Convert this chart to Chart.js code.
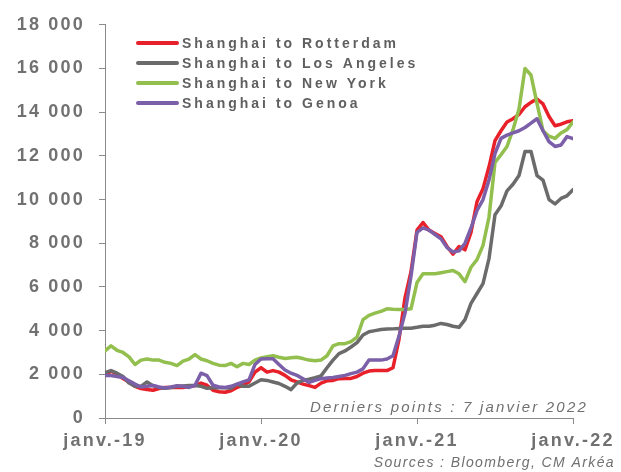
<!DOCTYPE html>
<html>
<head>
<meta charset="utf-8">
<script src="https://cdn.jsdelivr.net/npm/chart.js@4.4.1/dist/chart.umd.min.js"></script>
<style>
  html, body { margin: 0; padding: 0; background: #fff; }
</style>
</head>
<body>
<canvas id="chart" width="621" height="472"></canvas>
<script>
// weeks since the first data point (early January 2019), one reading every 2 weeks
const weeks = [0, 2, 4, 6, 8, 10, 12, 14, 16, 18,
  20, 22, 24, 26, 28, 30, 32, 34, 36, 38,
  40, 42, 44, 46, 48, 50, 52, 54, 56, 58,
  60, 62, 64, 66, 68, 70, 72, 74, 76, 78,
  80, 82, 84, 86, 88, 90, 92, 94, 96, 98,
  100, 102, 104, 106, 108, 110, 112, 114, 116, 118,
  120, 122, 124, 126, 128, 130, 132, 134, 136, 138,
  140, 142, 144, 146, 148, 150, 152, 154, 156];

const yearWeeks = [0, 52, 104, 156];
const yearLabels = ['janv.-19', 'janv.-20', 'janv.-21', 'janv.-22'];

const seriesNames = ['Shanghai to Rotterdam', 'Shanghai to Los Angeles', 'Shanghai to New York', 'Shanghai to Genoa'];
const seriesColors = ['#e8202a', '#6b6b6b', '#92bf4e', '#7b5fa8'];

const rotterdam = [1940, 2150, 2000, 1810, 1650, 1450, 1350, 1300, 1270, 1350,
  1400, 1400, 1400, 1400, 1450, 1480, 1600, 1500, 1270, 1200,
  1180, 1250, 1400, 1500, 1650, 2100, 2300, 2100, 2170, 2100,
  1950, 1750, 1650, 1550, 1480, 1400, 1600, 1700, 1720, 1800,
  1810, 1810, 1900, 2050, 2150, 2170, 2170, 2170, 2300, 3600,
  5500, 6700, 8600, 8950, 8600, 8450, 8300, 7850, 7500, 7850,
  7700, 8500, 9900, 10500, 11500, 12700, 13150, 13550, 13700, 13900,
  14250, 14450, 14600, 14380, 13800, 13380, 13450, 13560, 13610];

const losAngeles = [2080, 2170, 2050, 1900, 1600, 1450, 1450, 1650, 1480, 1400,
  1360, 1400, 1450, 1470, 1490, 1490, 1450, 1360, 1380, 1400,
  1380, 1360, 1550, 1450, 1450, 1600, 1750, 1720, 1650, 1580,
  1450, 1300, 1600, 1720, 1780, 1850, 1930, 2300, 2650, 2950,
  3070, 3250, 3450, 3800, 3950, 4000, 4050, 4070, 4080, 4100,
  4110, 4110, 4150, 4200, 4200, 4250, 4330, 4280, 4200, 4150,
  4500, 5250, 5700, 6150, 7300, 9300, 9700, 10400, 10700, 11100,
  12200, 12200, 11100, 10890, 10000, 9800, 10050, 10170, 10450];

const newYork = [3075, 3300, 3100, 3000, 2800, 2450, 2650, 2700, 2650, 2650,
  2550, 2500, 2400, 2600, 2700, 2900, 2700, 2620, 2500, 2420,
  2400, 2500, 2350, 2500, 2450, 2650, 2750, 2800, 2850, 2780,
  2720, 2760, 2780, 2720, 2650, 2620, 2650, 2850, 3300, 3400,
  3400, 3500, 3700, 4500, 4700, 4800, 4880, 5000, 4980, 4970,
  4970, 5000, 6200, 6600, 6600, 6600, 6650, 6700, 6750, 6600,
  6240, 6900, 7250, 7900, 9200, 11700, 12050, 12430, 13200, 14150,
  16000, 15700, 14400, 13150, 12900, 12800, 13050, 13200, 13550];

const genoa = [1940, 1950, 1900, 1850, 1700, 1550, 1420, 1450, 1490, 1420,
  1370, 1420, 1480, 1450, 1400, 1500, 2050, 1940, 1500, 1420,
  1400, 1450, 1550, 1650, 1750, 2450, 2700, 2710, 2710, 2450,
  2200, 2050, 1950, 1800, 1630, 1720, 1800, 1830, 1850, 1900,
  1950, 2030, 2100, 2250, 2650, 2650, 2650, 2700, 2850, 3750,
  4800, 6500, 8500, 8700, 8600, 8400, 8200, 7800, 7600, 7650,
  8000, 8700, 9500, 10000, 10900, 12100, 12800, 12950, 13050, 13150,
  13300, 13500, 13700, 13150, 12650, 12430, 12500, 12880, 12790];

const allSeries = [rotterdam, losAngeles, newYork, genoa];
const drawOrder = [4, 3, 2, 1]; // Genoa on top, like the original

const FONT = '"Liberation Sans", Arial, sans-serif';
const AXIS_GREY = '#8a8a8a';

// text in the source picture is widely spaced
const letterSpacing = {
  id: 'letterSpacing',
  beforeDraw(chart) {
    chart.ctx.letterSpacing = '2.2px';
  }
};

const notes = {
  id: 'notes',
  afterDraw(chart) {
    const ctx = chart.ctx;
    ctx.save();
    // legend inside the plot area
    ctx.lineCap = 'round';
    ctx.textBaseline = 'middle';
    ctx.textAlign = 'left';
    ctx.letterSpacing = '3px';
    ctx.font = 'bold 14px ' + FONT;
    seriesNames.forEach((name, i) => {
      const y = 43 + i * 20;
      ctx.strokeStyle = seriesColors[i];
      ctx.lineWidth = 4;
      ctx.beginPath();
      ctx.moveTo(138, y);
      ctx.lineTo(177, y);
      ctx.stroke();
      ctx.fillStyle = '#5f5f5f';
      ctx.fillText(name, 182, y + 1);
    });
    // notes
    ctx.textAlign = 'right';
    ctx.fillStyle = '#707070';
    ctx.letterSpacing = '2.2px';
    ctx.font = 'italic 15px ' + FONT;
    ctx.fillText('Derniers points : 7 janvier 2022', 588, 408);
    ctx.letterSpacing = '1.4px';
    ctx.font = 'italic 14px ' + FONT;
    ctx.fillText('Sources : Bloomberg, CM Arkéa', 615, 463);
    ctx.restore();
  }
};

new Chart(document.getElementById('chart'), {
  type: 'line',
  data: {
    datasets: allSeries.map((vals, i) => ({
      label: seriesNames[i],
      data: vals.map((v, k) => ({ x: weeks[k], y: v })),
      borderColor: seriesColors[i],
      backgroundColor: seriesColors[i],
      borderWidth: 3.5,
      borderJoinStyle: 'round',
      borderCapStyle: 'round',
      pointRadius: 0,
      tension: 0,
      order: drawOrder[i]
    }))
  },
  options: {
    responsive: false,
    animation: false,
    layout: { padding: { left: 0, right: 48, top: 20, bottom: 0 } },
    plugins: {
      legend: { display: false },
      tooltip: { enabled: false }
    },
    scales: {
      x: {
        type: 'linear',
        min: 0,
        max: 156,
        afterBuildTicks: scale => {
          scale.ticks = yearWeeks.map(v => ({ value: v }));
        },
        afterFit: scale => { scale.height = 54; },
        ticks: {
          autoSkip: false,
          maxRotation: 0,
          padding: 6,
          color: '#717171',
          font: { family: FONT, size: 18, weight: 'bold' },
          callback: v => yearLabels[yearWeeks.indexOf(v)]
        },
        grid: { drawOnChartArea: false, drawTicks: true, tickLength: 6, color: AXIS_GREY },
        border: { color: AXIS_GREY, width: 1 }
      },
      y: {
        min: 0,
        max: 18000,
        afterFit: scale => { scale.width = 105; },
        ticks: {
          stepSize: 2000,
          padding: 14,
          color: '#717171',
          font: { family: FONT, size: 18, weight: 'bold' },
          callback: v => String(v).replace(/\B(?=(\d{3})+(?!\d))/g, ' ')
        },
        grid: { drawOnChartArea: false, drawTicks: true, tickLength: 6, color: AXIS_GREY },
        border: { color: AXIS_GREY, width: 1 }
      }
    }
  },
  plugins: [letterSpacing, notes]
});
</script>
</body>
</html>
